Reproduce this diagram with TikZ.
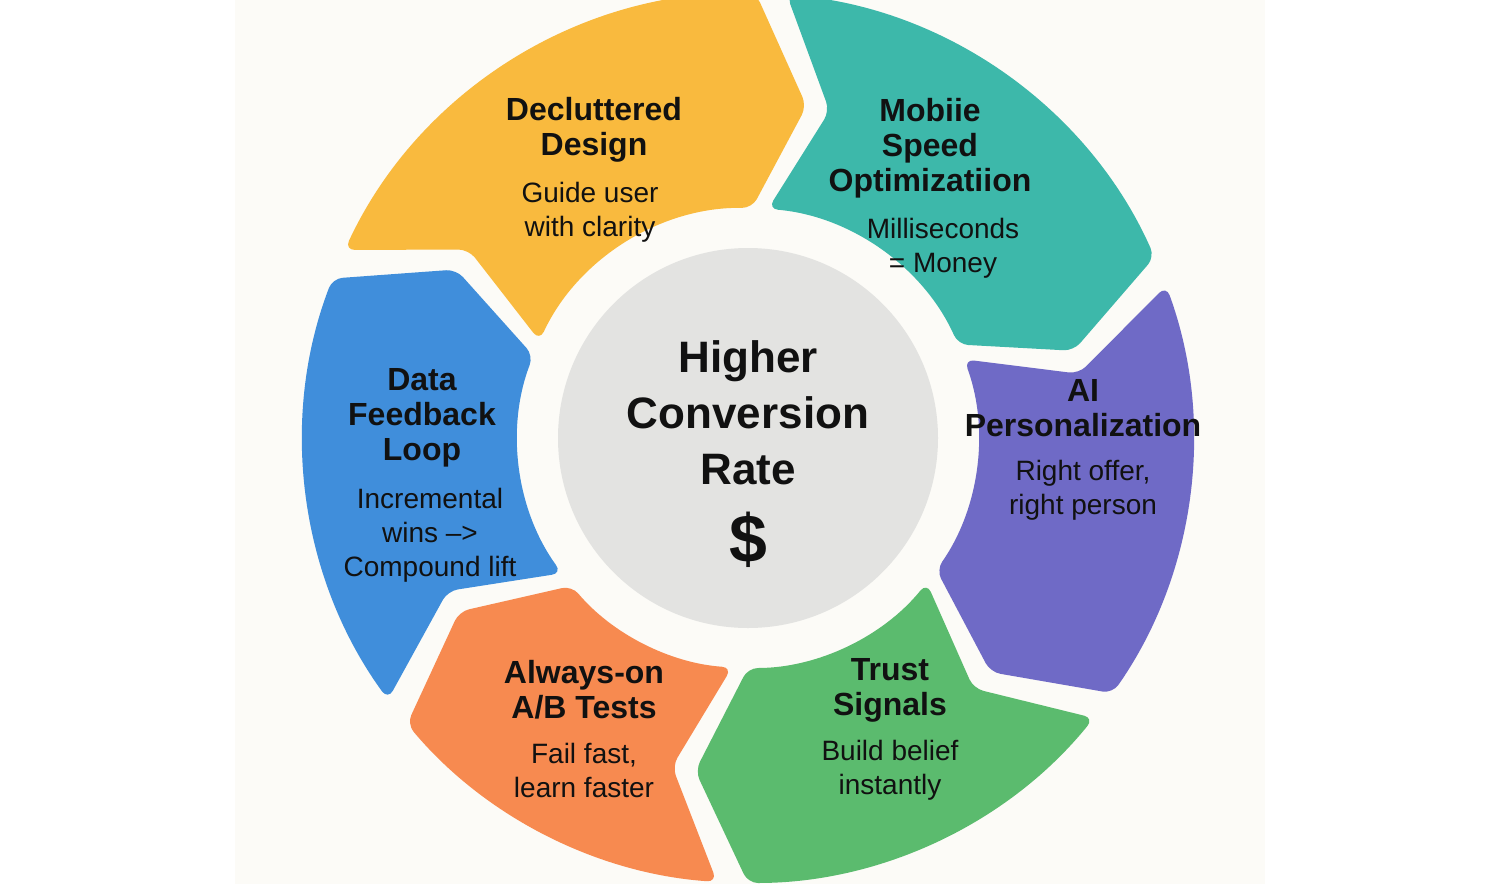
\documentclass[tikz,border=0pt]{standalone}
\usepackage{fontspec}
\setmainfont{Liberation Sans}
\definecolor{cy}{HTML}{F9BA3E}
\definecolor{ct}{HTML}{3DB8AA}
\definecolor{cp}{HTML}{6F6AC6}
\definecolor{cg}{HTML}{5BBB6E}
\definecolor{co}{HTML}{F78A50}
\definecolor{cb}{HTML}{408EDB}
\definecolor{cc}{HTML}{E3E3E1}
\definecolor{bg}{HTML}{FCFBF7}
\definecolor{tx}{HTML}{111111}
\tikzset{head/.style={font=\fontsize{16}{17.5}\selectfont\bfseries,align=center,text=tx},
 body/.style={font=\fontsize{14}{17}\selectfont,align=center,text=tx}}
\begin{document}
\begin{tikzpicture}[x=0.5pt,y=0.5pt]
\useasboundingbox (0,0) rectangle (1499,-884);
\fill[white] (0,0) rectangle (1499,-884);
\fill[bg] (235,0) rectangle (1265,-884);
\begin{scope}[shift={(748,-438)}]
\foreach \s/\e/\c in {157/87/cy,87/22/ct,22/-37/cp,-37/-92/cg,-92/-142/co,-142/-203/cb}{
 \fill[\c,rounded corners=5] ({\s-2}:445) arc[start angle={\s-2},end angle={\e+2},radius=445]
  -- ({\e+2-9}:337) -- ({\e+2}:230) arc[start angle={\e+2},end angle={\s-2},radius=230]
  -- ({\s-2-9}:337) -- cycle;
}
\fill[cc] (0,0) circle (190);
\end{scope}
\node[font=\fontsize{22}{28}\selectfont\bfseries,align=center,text=tx] (ct) at (748,-413) {Higher\\Conversion\\Rate};
\node[font=\fontsize{34}{34}\selectfont\bfseries,text=tx] (cd) at (748,-540) {\$};
\node[head] (h1) at (594,-130) {Decluttered\\Design};
\node[body] (b1) at (590,-212) {Guide user\\with clarity};
\node[head] (h2) at (930,-148) {Mobiie\\Speed\\Optimizatiion};
\node[body] (b2) at (943,-248) {Milliseconds\\= Money};
\node[head] (h3) at (1083,-408) {AI\\Personalization};
\node[body] (b3) at (1083,-490) {Right offer,\\right person};
\node[head] (h4) at (890,-690) {Trust\\Signals};
\node[body] (b4) at (890,-770) {Build belief\\instantly};
\node[head] (h5) at (584,-690) {Always-on\\A/B Tests};
\node[body] (b5) at (584,-770) {Fail fast,\\learn faster};
\node[head] (h6) at (422,-418) {Data\\Feedback\\Loop};
\node[body] (b6) at (430,-535) {Incremental\\wins -->\\Compound lift};
\end{tikzpicture}
\end{document}
